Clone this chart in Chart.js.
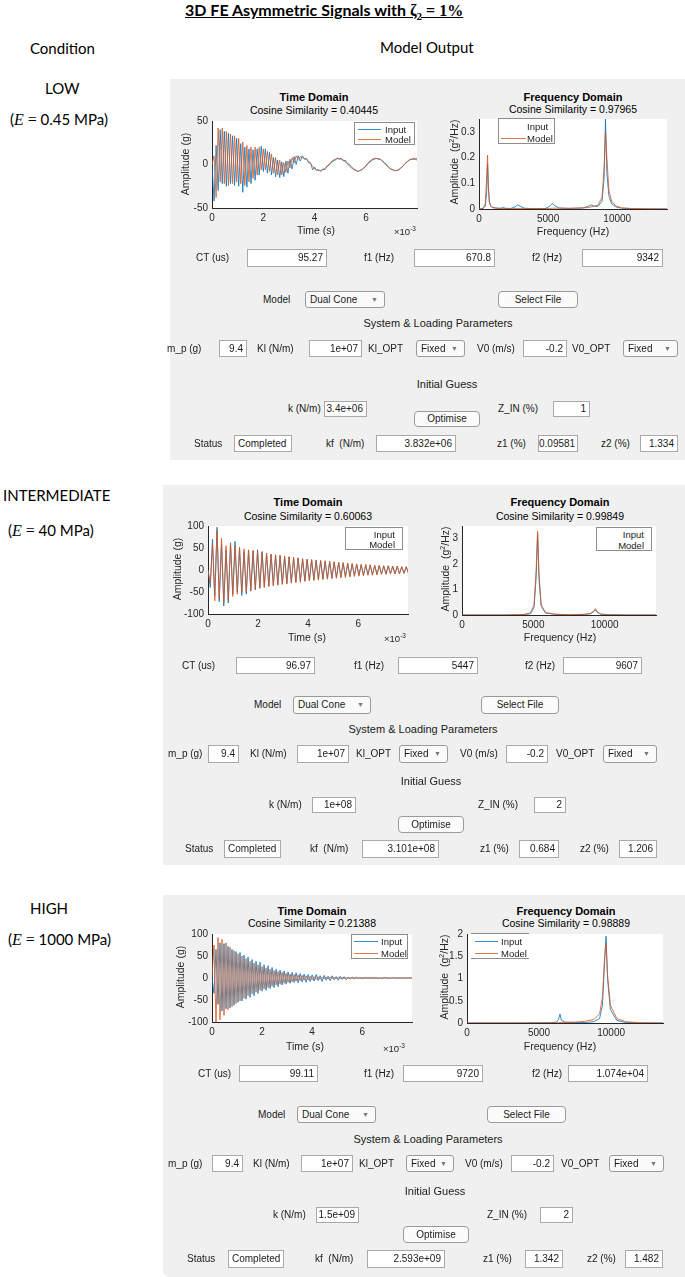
<!DOCTYPE html>
<html>
<head>
<meta charset="utf-8">
<script src="https://cdn.jsdelivr.net/npm/chart.js@4.4.0/dist/chart.umd.min.js"></script>
<style>
  body { margin: 0; width: 685px; height: 1277px; position: relative; background: #fff; overflow: hidden;
         font-family: "Liberation Sans", Arial, sans-serif; }
  .abs { position: absolute; white-space: nowrap; }
  .doc { font-family: Lato, "Open Sans", sans-serif; font-size: 15px; line-height: 18px; color: #000; }
  .doc.big { font-size: 16px; }
  .mi { font-family: "Liberation Serif", "DejaVu Serif", serif; font-style: italic; font-size: 16px; }
  .mo { font-family: "Liberation Serif", "DejaVu Serif", serif; font-size: 16px; }
  .panel { background: #f0f0f0; }
  .lbl { font-size: 10px; line-height: 12px; color: #1a1a1a; }
  .head { font-size: 11px; line-height: 14px; color: #1a1a1a; text-align: center; }
  .ttl { font-size: 11px; line-height: 13px; font-weight: bold; color: #000; text-align: center; }
  .sub { font-size: 10.5px; line-height: 13px; color: #000; text-align: center; }
  .axl { font-size: 10.5px; line-height: 13px; color: #262626; text-align: center; }
  .axl sup { font-size: 7px; }
  .edit { background: #fff; border: 1px solid #a9a9a9; box-sizing: border-box; font-size: 10px;
          text-align: right; padding-right: 3px; color: #1a1a1a; }
  .edit.left { text-align: left; padding-left: 3px; }
  .drop { background: #fafafa; border: 1px solid #9a9a9a; border-radius: 3px; box-sizing: border-box;
          font-size: 10px; padding-left: 4px; color: #1a1a1a; }
  .drop .arr { position: absolute; right: 6px; font-size: 7px; color: #777; }
  .btn { background: #fbfbfb; border: 1px solid #9a9a9a; border-radius: 4px; box-sizing: border-box;
         font-size: 10px; text-align: center; color: #1a1a1a; }
  .leg { background: #fff; border: 1px solid #8c8c8c; box-sizing: border-box; font-size: 9.5px; color: #1a1a1a; }
  .leg.tb { border-left: none; border-right: none; }
  .leg .it { position: absolute; height: 11px; line-height: 11px; }
  .leg .ln { position: absolute; height: 0; border-top: 1px solid; opacity: 0.8; }
  .exp { font-size: 9.5px; line-height: 12px; color: #262626; }
  .exp sup { font-size: 6.5px; }
</style>
</head>
<body>
<script>
// ---- data ----
const BLUE = '#0072BD';
const ORANGE = '#D95319';

// LOW (E = 0.45 MPa) time domain, samples every 0.08 ms
const lowStep = 0.08;
const lowInput = [
  0, -42, 22, -30, 40, -22, 38, -25, 36, -22,
  33, -24, 30, -25, 24, -32, 20, -26, 18, -22,
  17, -18, 18, -12, 21, -8, 18, -10, 14, -12,
  8, -14, 5, -15, 3, -14, 4, -10, 6, -5,
  9, 0, 10, 4, 10, 6, 7, 2, 2, -6,
  -3, -7, -6, -8, -5, -6, -2, -1, 2, 4,
  5, 7, 6, 7, 4, 5, 1, 0, -3, -5,
  -6, -8, -7, -6, -4, -2, 1, 3, 5, 6,
  7, 6, 6, 4, 2, 0, -3, -5, -6, -7,
  -7, -6, -4, -2, 1, 3, 5, 6, 6, 6,
  5
];
const lowModel = [
  0, 10, -38, 42, -20, 42, -22, 38, -24, 35,
  -22, 33, -20, 30, -22, 26, -24, 22, -20, 20,
  -16, 20, -12, 20, -6, 18, -6, 15, -8, 12,
  -10, 8, -12, 5, -12, 2, -9, 4, -4, 8,
  2, 10, 6, 9, 8, 7, 6, 4, 1, -2,
  -5, -6, -7, -7, -6, -5, -2, 0, 3, 5,
  6, 7, 7, 6, 5, 3, 1, -2, -4, -6,
  -7, -8, -7, -6, -4, -1, 2, 4, 6, 7,
  7, 7, 6, 4, 1, -1, -3, -5, -6, -7,
  -7, -6, -4, -2, 1, 3, 5, 6, 7, 7,
  7
];

// INTERMEDIATE (E = 40 MPa) time domain, samples every 0.09 ms
const midStep = 0.09;
const midInput = [
  0, -40, 70, -60, 97, -72, 60, -82, 45, -75,
  62, -55, 65, -50, 50, -58, 42, -55, 45, -48,
  44, -45, 46, -40, 42, -38, 38, -36, 36, -35,
  34, -33, 33, -32, 31, -30, 30, -28, 28, -27,
  27, -26, 25, -25, 24, -24, 23, -22, 22, -21,
  21, -20, 20, -19, 19, -18, 18, -17, 17, -16,
  16, -15, 15, -14, 14, -13, 13, -12, 12, -12,
  11, -11, 11, -10, 10, -10, 10, -9, 9, -9,
  9, -8, 8, -8, 8, -8, 7, -7, 7, -7
];
const midModel = [
  0, -30, 60, -70, 90, -65, 72, -75, 55, -68,
  60, -60, 55, -55, 52, -52, 48, -50, 46, -46,
  44, -44, 42, -42, 40, -40, 38, -38, 36, -36,
  35, -35, 33, -33, 32, -32, 30, -30, 29, -29,
  28, -28, 26, -26, 25, -25, 24, -24, 23, -23,
  22, -22, 21, -21, 20, -20, 19, -19, 18, -18,
  17, -17, 16, -16, 15, -15, 14, -14, 13, -13,
  13, -12, 12, -12, 11, -11, 11, -10, 10, -10,
  10, -9, 9, -9, 9, -9, 8, -8, 8, -8
];

// HIGH (E = 1000 MPa) time domain, samples every 0.08 ms
const highStep = 0.08;
const highInput = [
  0, -35, 65, -60, 80, -75, 78, -70, 72, -68,
  65, -62, 60, -55, 58, -52, 52, -48, 48, -44,
  42, -40, 38, -35, 36, -30, 30, -28, 28, -24,
  24, -22, 20, -20, 18, -16, 16, -14, 14, -12,
  13, -10, 12, -11, 10, -9, 9, -10, 8, -8,
  7, -7, 8, -6, 5, -8, 6, -5, 4, -6,
  5, -4, 3, -5, 4, -3, 3, -4, 2, -2,
  2, -2, 2, -1, 1, -2, 1, -1, 1, -1,
  1, -1, 1, -1, 0, -1, 1, 0, 0, -1,
  1, 0, 0, 0, 0, 0, 0, 0, 0, 0,
  0
];
const highModel = [
  0, 75, -100, 92, -95, 88, -85, 80, -72, 70,
  -65, 62, -58, 55, -52, 50, -46, 44, -40, 38,
  -36, 34, -32, 30, -28, 26, -25, 23, -22, 20,
  -19, 17, -16, 15, -14, 13, -12, 11, -10, 9,
  -9, 8, -7, 7, -6, 6, -5, 5, -4, 4,
  -4, 3, -3, 3, -3, 2, -2, 2, -2, 2,
  -1, 1, -1, 1, -1, 1, -1, 1, -1, 1,
  -1, 1, -1, 1, -1, 1, -1, 1, -1, 1,
  -1, 1, -1, 0, 0, 0, 0, 0, 0, 0,
  0, 0, 0, 0, 0, 0, 0, 0, 0, 0,
  0
];

// frequency domain (Hz, g^2/Hz)
const lowFreq = [0, 300, 450, 550, 620, 680, 750, 850, 1000, 1300,
  1600, 1750, 1900, 2300, 2600, 2800, 3000, 3300, 4000, 4800,
  5100, 5300, 5500, 5800, 6500, 7500, 7900, 8100, 8300, 8600,
  8900, 9050, 9150, 9250, 9400, 9600, 9900, 10300, 11000, 12000, 13600];
const lowFreqInput = [0, 0.002, 0.01, 0.06, 0.175, 0.09, 0.03, 0.012, 0.006, 0.003,
  0.003, 0.006, 0.003, 0.002, 0.008, 0.016, 0.01, 0.003, 0.001, 0.002,
  0.01, 0.022, 0.012, 0.004, 0.002, 0.004, 0.01, 0.016, 0.012, 0.01,
  0.03, 0.12, 0.35, 0.14, 0.05, 0.02, 0.008, 0.003, 0.001, 0, 0];
const lowFreqModel = [0, 0.003, 0.02, 0.12, 0.21, 0.08, 0.025, 0.01, 0.005, 0.003,
  0.002, 0.002, 0.002, 0.002, 0.002, 0.002, 0.002, 0.002, 0.002, 0.002,
  0.002, 0.003, 0.003, 0.003, 0.003, 0.004, 0.006, 0.008, 0.01, 0.015,
  0.045, 0.16, 0.3, 0.2, 0.07, 0.03, 0.012, 0.005, 0.002, 0.001, 0];

const midFreq = [0, 3000, 4300, 4800, 5050, 5200, 5300, 5400, 5550, 5850,
  6500, 7500, 8600, 9000, 9200, 9350, 9500, 9700, 10200, 11500, 13600];
const midFreqInput = [0, 0, 0.01, 0.05, 0.3, 1.5, 3.2, 1.4, 0.35, 0.08,
  0.03, 0.005, 0.02, 0.05, 0.12, 0.2, 0.1, 0.04, 0.01, 0, 0];
const midFreqModel = [0, 0.003, 0.02, 0.08, 0.4, 1.8, 3.3, 1.6, 0.4, 0.1,
  0.03, 0.01, 0.03, 0.06, 0.14, 0.25, 0.12, 0.04, 0.01, 0.002, 0];

const highFreq = [0, 4000, 5800, 6200, 6350, 6450, 6550, 6800, 7500, 8200,
  8800, 9200, 9400, 9550, 9650, 9750, 9950, 10400, 11000, 12000, 13600];
const highFreqInput = [0, 0, 0.005, 0.02, 0.08, 0.2, 0.06, 0.02, 0.01, 0.01,
  0.03, 0.1, 0.4, 1.4, 1.95, 1.0, 0.3, 0.06, 0.01, 0, 0];
const highFreqModel = [0, 0.002, 0.004, 0.006, 0.008, 0.01, 0.012, 0.015, 0.02, 0.04,
  0.08, 0.2, 0.6, 1.5, 1.8, 1.1, 0.4, 0.1, 0.03, 0.005, 0];

// tick labels
const timeTicks = [0, 2, 4, 6];
const freqTicks = [0, 5000, 10000];
const lowAmpTicks = [-50, 0, 50];
const ampTicks = [-100, -50, 0, 50, 100];
const lowPsdTicks = [0, 0.1, 0.2, 0.3];
const midPsdTicks = [0, 1, 2, 3];
const highPsdTicks = [0, 0.5, 1, 1.5, 2];

// ---- helpers ----
function el(cls, x, y, w, h, html) {
  const d = document.createElement('div');
  d.className = 'abs ' + cls;
  d.style.left = x + 'px';
  d.style.top = y + 'px';
  if (w) d.style.width = w + 'px';
  if (h) { d.style.height = h + 'px'; d.style.lineHeight = (h - 2) + 'px'; }
  d.innerHTML = html;
  document.body.appendChild(d);
  return d;
}
function ctext(cls, cx, cy, html) {
  return el(cls, cx - 150, cy - 7, 300, 0, html);
}
function vlabel(cx, cy, html) {
  const d = el('axl', cx, cy, 0, 0, html);
  d.style.transform = 'translate(-50%,-50%) rotate(-90deg)';
}
function row(y, h, items) {
  items.forEach(([kind, x, w, text]) => {
    if (kind === 'l') el('lbl', x, y + h / 2 - 6, 0, 0, text);
    else if (kind === 'c') ctext('head', x, y + 7, text);
    else if (kind === 'e') el('edit', x, y, w, h, text);
    else if (kind === 's') el('edit left', x, y, w, h, text);
    else if (kind === 'd') el('drop', x, y, w, h, text + '<span class="arr">&#9660;</span>');
    else if (kind === 'b') el('btn', x, y, w, h, text);
  });
}
function legend(x, y, w, h, lines, textX, extra) {
  const box = el('leg ' + (extra || ''), x, y, w, h, '');
  const names = ['Input', 'Model'];
  const cols = [BLUE, ORANGE];
  names.forEach((n, i) => {
    const top = 1 + i * (h - 2) / 2 + ((h - 2) / 2 - 11) / 2;
    if (lines[i]) {
      const ln = document.createElement('div');
      ln.className = 'ln';
      ln.style.left = lines[i][0] + 'px';
      ln.style.width = lines[i][1] + 'px';
      ln.style.top = (top + 5) + 'px';
      ln.style.borderColor = cols[i];
      box.appendChild(ln);
    }
    const t = document.createElement('div');
    t.className = 'it';
    t.style.top = top + 'px';
    if (textX >= 0) t.style.left = textX + 'px';
    else t.style.right = (-textX) + 'px';
    t.textContent = n;
    box.appendChild(t);
  });
}

const whiteArea = {
  id: 'whiteArea',
  beforeDraw(chart) {
    const a = chart.chartArea;
    chart.ctx.save();
    chart.ctx.fillStyle = '#fff';
    chart.ctx.fillRect(a.left, a.top, a.width, a.height);
    chart.ctx.restore();
  }
};

function axis(min, max, ticks, fit) {
  return {
    type: 'linear', min: min, max: max,
    afterBuildTicks: s => { s.ticks = ticks.map(v => ({ value: v })); },
    afterFit: fit,
    grid: { display: false, drawTicks: false },
    border: { display: true, color: '#262626', width: 1 },
    ticks: { font: { family: 'Liberation Sans', size: 10 }, color: '#262626', padding: 4,
             maxRotation: 0, autoSkip: false, callback: v => String(v) }
  };
}

function plot(rect, xs, input, model, xMax, xTicks, yMin, yMax, yTicks) {
  const [x, y, w, h] = rect;
  const box = el('', x - 40, y - 8, w + 48, h + 28, '');
  box.style.height = (h + 28) + 'px';
  const cv = document.createElement('canvas');
  box.appendChild(cv);
  const pts = arr => arr.map((v, i) => ({ x: xs[i], y: v }));
  new Chart(cv, {
    type: 'line',
    data: {
      datasets: [
        { label: 'Model', data: pts(model), borderColor: ORANGE, borderWidth: 0.8, pointRadius: 0, tension: 0 },
        { label: 'Input', data: pts(input), borderColor: BLUE, borderWidth: 0.8, pointRadius: 0, tension: 0 }
      ]
    },
    options: {
      responsive: true,
      maintainAspectRatio: false,
      animation: false,
      layout: { padding: { top: 8, right: 8, left: 0, bottom: 0 } },
      scales: {
        x: axis(0, xMax, xTicks, s => { s.height = 20; }),
        y: axis(yMin, yMax, yTicks, s => { s.width = 40; })
      },
      plugins: { legend: { display: false }, tooltip: { enabled: false } }
    },
    plugins: [whiteArea]
  });
}

const grid = (arr, step) => arr.map((_, i) => +(i * step).toFixed(3));
const TMAX = 7.99;
const FMAX = 13600;

// ---- document text ----
el('doc big', 185, 1, 0, 0,
  '<span style="font-weight:bold;text-decoration:underline">3D FE Asymmetric Signals with ' +
  '<span class="mo" style="font-weight:bold">&zeta;<sub style="font-size:11px">2</sub> = 1%</span></span>');
el('doc', 30, 39, 0, 0, 'Condition');
el('doc', 380, 38, 0, 0, 'Model Output');
el('doc', 45, 79, 0, 0, 'LOW');
el('doc', 10, 110, 0, 0, '(<span class="mi">E</span> <span class="mo">=</span> 0.45 MPa)');
el('doc', 3, 486, 0, 0, 'INTERMEDIATE');
el('doc', 8, 521, 0, 0, '(<span class="mi">E</span> <span class="mo">=</span> 40 MPa)');
el('doc', 30, 899, 0, 0, 'HIGH');
el('doc', 8, 930, 0, 0, '(<span class="mi">E</span> <span class="mo">=</span> 1000 MPa)');

// ---- panel backgrounds ----
el('panel', 170, 79, 515, 381, '');
el('panel', 163, 485, 522, 380, '');
el('panel', 163, 895, 522, 382, '').style.borderBottomLeftRadius = '6px';

// ---- LOW ----
ctext('ttl', 314, 98, 'Time Domain');
ctext('sub', 314, 111, 'Cosine Similarity = 0.40445');
ctext('ttl', 573, 98, 'Frequency Domain');
ctext('sub', 573, 110, 'Cosine Similarity = 0.97965');
plot([212, 119, 205, 89], grid(lowInput, lowStep), lowInput, lowModel, TMAX, timeTicks, -50, 50, lowAmpTicks);
plot([479, 117, 188, 92], lowFreq, lowFreqInput, lowFreqModel, FMAX, freqTicks, 0, 0.35, lowPsdTicks);
ctext('axl', 316, 231, 'Time (s)');
el('exp', 394, 223, 0, 0, '&times;10<sup>-3</sup>');
ctext('axl', 573, 232, 'Frequency (Hz)');
vlabel(185, 164, 'Amplitude (g)');
vlabel(453, 162, 'Amplitude&nbsp;&nbsp;(g<sup>2</sup>/Hz)');
legend(354, 122, 61, 23, [[3, 23], [3, 23]], 30);
legend(498, 118, 57, 26, [null, [2, 25]], 28);

row(249, 18, [['l', 196, 0, 'CT (us)'], ['e', 247, 80, '95.27'], ['l', 364, 0, 'f1 (Hz)'], ['e', 414, 81, '670.8'],
              ['l', 532, 0, 'f2 (Hz)'], ['e', 582, 81, '9342']]);
row(291, 17, [['l', 263, 0, 'Model'], ['d', 305, 80, 'Dual Cone'], ['b', 498, 80, 'Select File']]);
row(316, 14, [['c', 438, 0, 'System &amp; Loading Parameters']]);
row(340, 17, [['l', 167, 0, 'm_p (g)'], ['e', 219, 28, '9.4'], ['l', 257, 0, 'Kl (N/m)'], ['e', 309, 53, '1e+07'],
              ['l', 368, 0, 'Kl_OPT'], ['d', 416, 49, 'Fixed'], ['l', 477, 0, 'V0 (m/s)'], ['e', 523, 44, '-0.2'],
              ['l', 572, 0, 'V0_OPT'], ['d', 623, 55, 'Fixed']]);
row(377, 14, [['c', 447, 0, 'Initial Guess']]);
row(401, 16, [['l', 288, 0, 'k (N/m)'], ['e', 324, 43, '3.4e+06'], ['l', 498, 0, 'Z_IN (%)'], ['e', 553, 37, '1']]);
row(411, 16, [['b', 414, 66, 'Optimise']]);
row(435, 17, [['l', 194, 0, 'Status'], ['s', 234, 58, 'Completed'], ['l', 326, 0, 'kf&nbsp; (N/m)'], ['e', 376, 80, '3.832e+06'],
              ['l', 497, 0, 'z1 (%)'], ['e', 538, 40, '0.09581'], ['l', 601, 0, 'z2 (%)'], ['e', 640, 38, '1.334']]);

// ---- INTERMEDIATE ----
ctext('ttl', 308, 503, 'Time Domain');
ctext('sub', 308, 517, 'Cosine Similarity = 0.60063');
ctext('ttl', 560, 503, 'Frequency Domain');
ctext('sub', 560, 517, 'Cosine Similarity = 0.99849');
plot([208, 524, 200, 90], grid(midInput, midStep), midInput, midModel, TMAX, timeTicks, -100, 100, ampTicks);
plot([462, 524, 194, 91], midFreq, midFreqInput, midFreqModel, FMAX, freqTicks, 0, 3.5, midPsdTicks);
ctext('axl', 307, 638, 'Time (s)');
el('exp', 384, 630, 0, 0, '&times;10<sup>-3</sup>');
ctext('axl', 560, 638, 'Frequency (Hz)');
vlabel(177, 569, 'Amplitude (g)');
vlabel(444, 569, 'Amplitude&nbsp;&nbsp;(g<sup>2</sup>/Hz)');
legend(345, 527, 58, 23, [null, null], -7);
legend(596, 527, 56, 24, [null, null], -7);

row(657, 17, [['l', 182, 0, 'CT (us)'], ['e', 236, 79, '96.97'], ['l', 354, 0, 'f1 (Hz)'], ['e', 398, 80, '5447'],
              ['l', 525, 0, 'f2 (Hz)'], ['e', 563, 79, '9607']]);
row(696, 18, [['l', 254, 0, 'Model'], ['d', 293, 78, 'Dual Cone'], ['b', 481, 78, 'Select File']]);
row(722, 14, [['c', 423, 0, 'System &amp; Loading Parameters']]);
row(745, 18, [['l', 168, 0, 'm_p (g)'], ['e', 208, 31, '9.4'], ['l', 250, 0, 'Kl (N/m)'], ['e', 297, 52, '1e+07'],
              ['l', 356, 0, 'Kl_OPT'], ['d', 399, 49, 'Fixed'], ['l', 460, 0, 'V0 (m/s)'], ['e', 506, 42, '-0.2'],
              ['l', 556, 0, 'V0_OPT'], ['d', 603, 54, 'Fixed']]);
row(774, 14, [['c', 431, 0, 'Initial Guess']]);
row(797, 16, [['l', 269, 0, 'k (N/m)'], ['e', 312, 44, '1e+08'], ['l', 478, 0, 'Z_IN (%)'], ['e', 534, 32, '2']]);
row(816, 17, [['b', 398, 66, 'Optimise']]);
row(840, 18, [['l', 185, 0, 'Status'], ['s', 224, 57, 'Completed'], ['l', 310, 0, 'kf&nbsp; (N/m)'], ['e', 362, 77, '3.101e+08'],
              ['l', 480, 0, 'z1 (%)'], ['e', 519, 40, '0.684'], ['l', 580, 0, 'z2 (%)'], ['e', 619, 38, '1.206']]);

// ---- HIGH ----
ctext('ttl', 312, 912, 'Time Domain');
ctext('sub', 312, 924, 'Cosine Similarity = 0.21388');
ctext('ttl', 566, 912, 'Frequency Domain');
ctext('sub', 566, 924, 'Cosine Similarity = 0.98889');
plot([212, 932, 200, 90], grid(highInput, highStep), highInput, highModel, TMAX, timeTicks, -100, 100, ampTicks);
plot([467, 932, 196, 91], highFreq, highFreqInput, highFreqModel, FMAX, freqTicks, 0, 2, highPsdTicks);
ctext('axl', 305, 1047, 'Time (s)');
el('exp', 383, 1040, 0, 0, '&times;10<sup>-3</sup>');
ctext('axl', 560, 1047, 'Frequency (Hz)');
vlabel(180, 977, 'Amplitude (g)');
vlabel(443, 977, 'Amplitude&nbsp;&nbsp;(g<sup>2</sup>/Hz)');
legend(351, 934, 57, 25, [[2, 24], [2, 24]], 29);
legend(471, 933, 58, 26, [[4, 23], [4, 23]], 30, 'tb');

row(1065, 17, [['l', 198, 0, 'CT (us)'], ['e', 239, 79, '99.11'], ['l', 364, 0, 'f1 (Hz)'], ['e', 403, 80, '9720'],
               ['l', 532, 0, 'f2 (Hz)'], ['e', 568, 80, '1.074e+04']]);
row(1106, 17, [['l', 258, 0, 'Model'], ['d', 297, 79, 'Dual Cone'], ['b', 487, 79, 'Select File']]);
row(1132, 14, [['c', 428, 0, 'System &amp; Loading Parameters']]);
row(1155, 17, [['l', 168, 0, 'm_p (g)'], ['e', 212, 31, '9.4'], ['l', 253, 0, 'Kl (N/m)'], ['e', 301, 52, '1e+07'],
               ['l', 359, 0, 'Kl_OPT'], ['d', 406, 48, 'Fixed'], ['l', 465, 0, 'V0 (m/s)'], ['e', 511, 43, '-0.2'],
               ['l', 561, 0, 'V0_OPT'], ['d', 609, 55, 'Fixed']]);
row(1184, 14, [['c', 435, 0, 'Initial Guess']]);
row(1207, 16, [['l', 273, 0, 'k (N/m)'], ['e', 316, 43, '1.5e+09'], ['l', 487, 0, 'Z_IN (%)'], ['e', 540, 33, '2']]);
row(1226, 17, [['b', 403, 66, 'Optimise']]);
row(1250, 18, [['l', 187, 0, 'Status'], ['s', 228, 56, 'Completed'], ['l', 315, 0, 'kf&nbsp; (N/m)'], ['e', 367, 78, '2.593e+09'],
               ['l', 483, 0, 'z1 (%)'], ['e', 525, 38, '1.342'], ['l', 587, 0, 'z2 (%)'], ['e', 625, 38, '1.482']]);
</script>
</body>
</html>
